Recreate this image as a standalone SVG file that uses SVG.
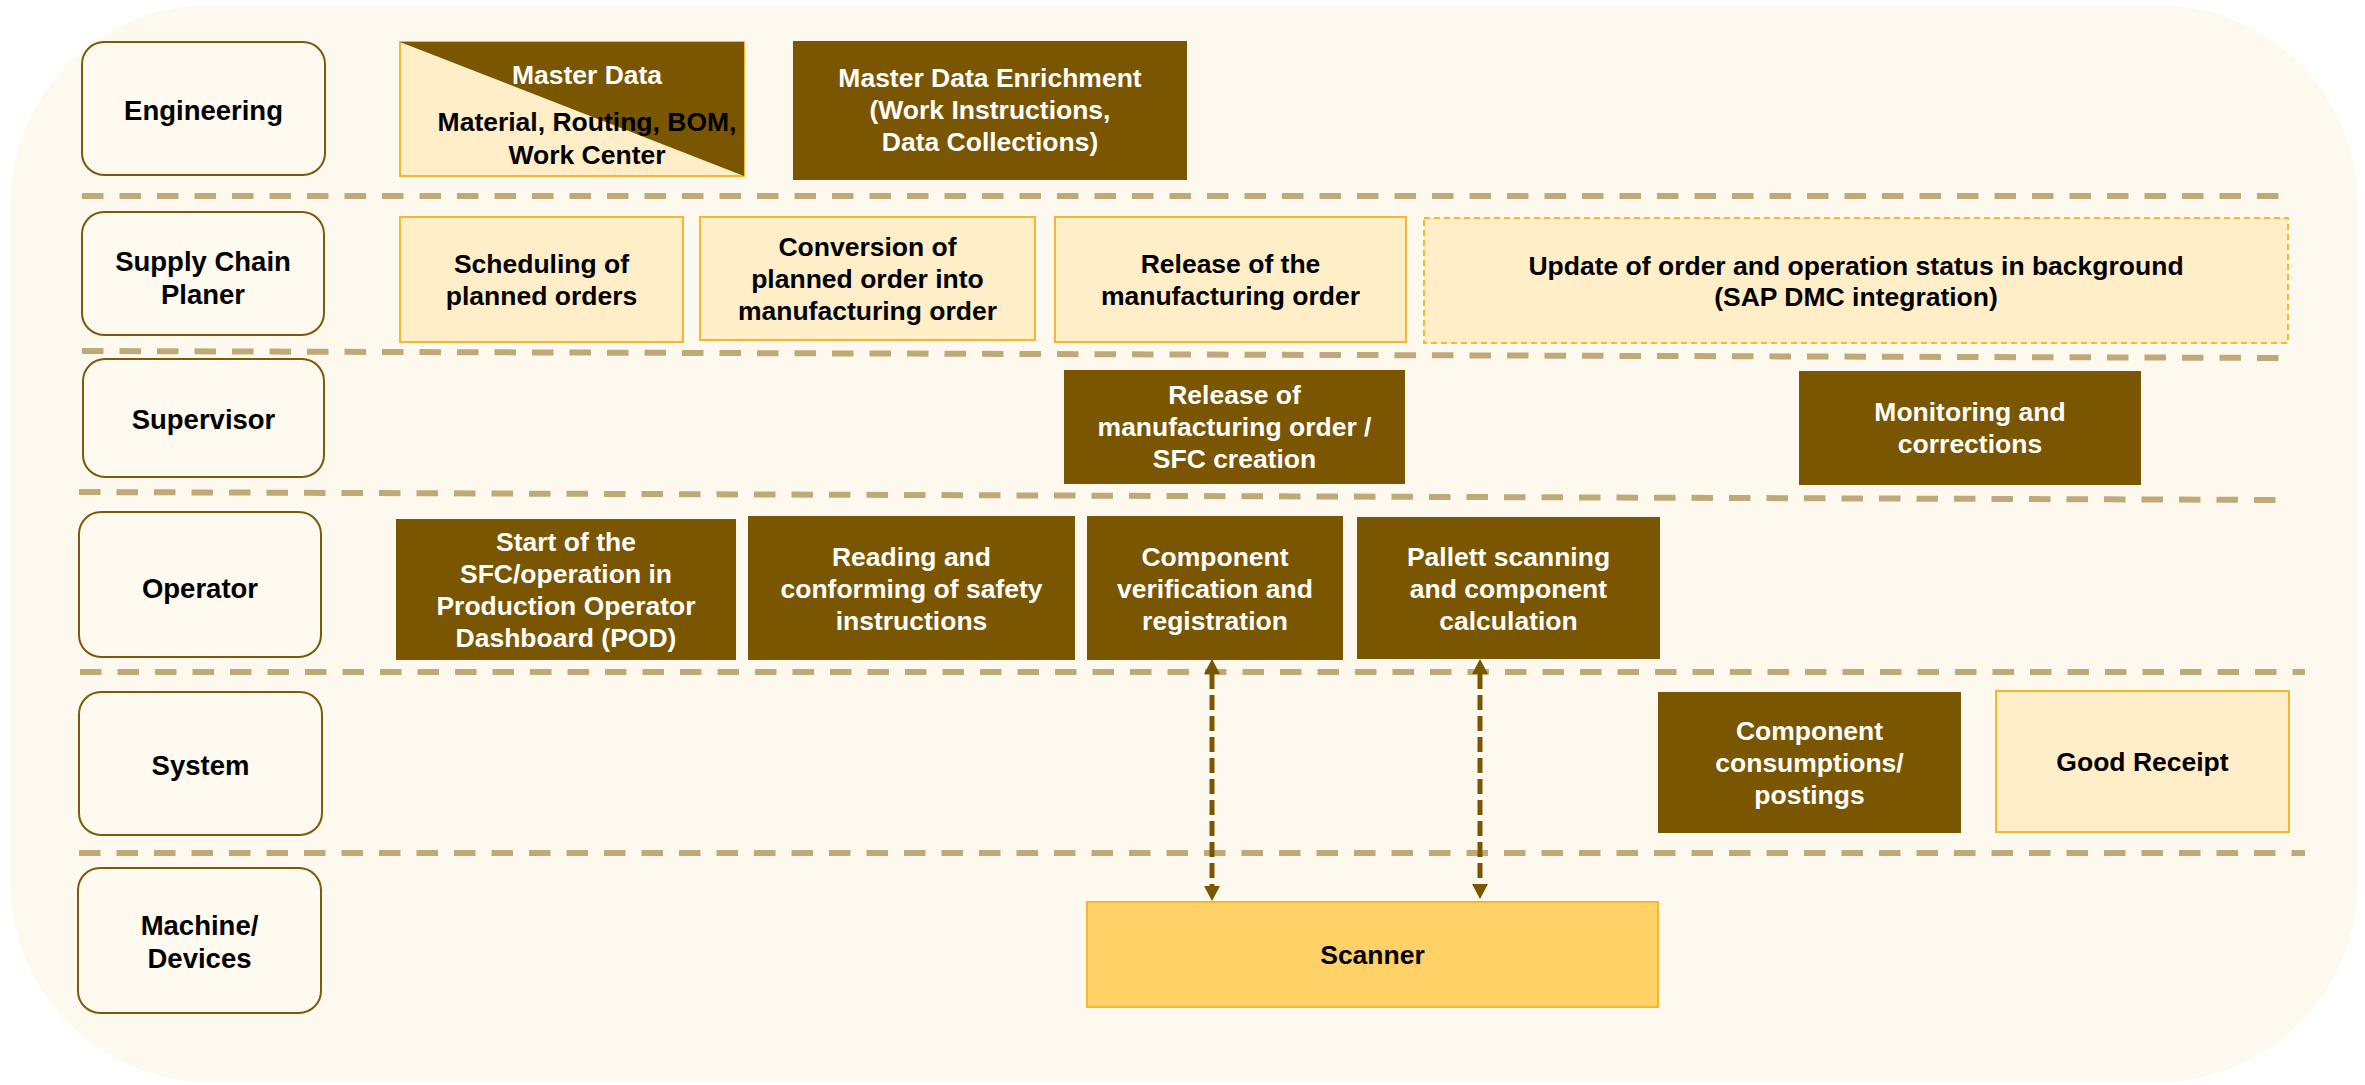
<svg xmlns="http://www.w3.org/2000/svg" width="2365" height="1085" viewBox="0 0 2365 1085">
<defs>
<style>
.bg{fill:#FEF9EE}
.lane rect{fill:#FFFAEF;stroke:#7D5A0A;stroke-width:2}
.lane text{font-family:"Liberation Sans",Arial,sans-serif;font-weight:bold;font-size:27.5px;fill:#000;text-anchor:middle}
.dark rect{fill:#7A5600}
.light rect{fill:#FFEEC8;stroke:#F4B731;stroke-width:2}
.dashed rect{fill:#FFEEC8;stroke:#F4B731;stroke-width:2;stroke-dasharray:6 4}
.scan rect{fill:#FFD166;stroke:#F4B731;stroke-width:2}
.n text{font-family:"Liberation Sans",Arial,sans-serif;font-weight:bold;font-size:26.5px;text-anchor:middle}
.dark text{fill:#FFFFFF}
.light text,.dashed text,.scan text{fill:#000000}
.sep{stroke:#BFA977;stroke-width:6;stroke-dasharray:21.5 16;fill:none}
.conn{stroke:#7A5600;stroke-width:5;stroke-dasharray:15 6;fill:none}
</style>
<marker id="ah" viewBox="0 0 15 16" refX="0" refY="8" markerWidth="15" markerHeight="16" markerUnits="userSpaceOnUse" orient="auto-start-reverse">
<path d="M0,0 L15,8 L0,16 z" fill="#7A5600"/>
</marker>
</defs>
<rect class="bg" x="10" y="5" width="2348" height="1077" rx="200" ry="200"/>

<g id="separators">
<line class="sep" x1="82" y1="196" x2="2290" y2="196"/>
<line class="sep" x1="82" y1="351" x2="2288" y2="358"/>
<line class="sep" x1="79" y1="492" x2="2288" y2="500"/>
<line class="sep" x1="80" y1="672" x2="2305" y2="672"/>
<line class="sep" x1="79" y1="853" x2="2305" y2="853"/>
</g>

<g id="lane-engineering" class="lane"><rect x="82" y="42" width="243" height="133" rx="22"/><text x="203.5" y="120">Engineering</text></g>
<g id="lane-supply" class="lane"><rect x="82" y="212" width="242" height="123" rx="22"/><text x="203" y="271">Supply Chain</text><text x="203" y="304">Planer</text></g>
<g id="lane-supervisor" class="lane"><rect x="83" y="359" width="241" height="118" rx="22"/><text x="203.5" y="429">Supervisor</text></g>
<g id="lane-operator" class="lane"><rect x="79" y="512" width="242" height="145" rx="22"/><text x="200" y="598">Operator</text></g>
<g id="lane-system" class="lane"><rect x="79" y="692" width="243" height="143" rx="22"/><text x="200.5" y="775">System</text></g>
<g id="lane-machine" class="lane"><rect x="78" y="868" width="243" height="145" rx="22"/><text x="199.5" y="935">Machine/</text><text x="199.5" y="968">Devices</text></g>

<g id="master-data" class="n light">
<rect x="400" y="42" width="344" height="134" stroke-width="1.5"/>
<polygon points="400,42 744,42 744,176" fill="#7A5600"/>
<text x="587" y="84" fill="#FFFFFF" style="fill:#FFFFFF">Master Data</text>
<text x="587" y="131">Material, Routing, BOM,</text>
<text x="587" y="164">Work Center</text>
</g>
<g id="master-data-enrichment" class="n dark"><rect x="793" y="41" width="394" height="139"/><text x="990" y="87">Master Data Enrichment</text><text x="990" y="119">(Work Instructions,</text><text x="990" y="151">Data Collections)</text></g>

<g id="scheduling" class="n light"><rect x="400" y="217" width="283" height="125"/><text x="541.5" y="273">Scheduling of</text><text x="541.5" y="305">planned orders</text></g>
<g id="conversion" class="n light"><rect x="700" y="217" width="335" height="123"/><text x="867.5" y="256">Conversion of</text><text x="867.5" y="288">planned order into</text><text x="867.5" y="320">manufacturing order</text></g>
<g id="release-mo" class="n light"><rect x="1055" y="217" width="351" height="125"/><text x="1230.5" y="273">Release of the</text><text x="1230.5" y="305">manufacturing order</text></g>
<g id="update-status" class="n dashed"><rect x="1424" y="218" width="864" height="125"/><text x="1856" y="275">Update of order and operation status in background</text><text x="1856" y="306">(SAP DMC integration)</text></g>

<g id="release-sfc" class="n dark"><rect x="1064" y="370" width="341" height="114"/><text x="1234.5" y="404">Release of</text><text x="1234.5" y="436">manufacturing order /</text><text x="1234.5" y="468">SFC creation</text></g>
<g id="monitoring" class="n dark"><rect x="1799" y="371" width="342" height="114"/><text x="1970" y="421">Monitoring and</text><text x="1970" y="453">corrections</text></g>

<g id="start-sfc" class="n dark"><rect x="396" y="519" width="340" height="141"/><text x="566" y="551">Start of the</text><text x="566" y="583">SFC/operation in</text><text x="566" y="615">Production Operator</text><text x="566" y="647">Dashboard (POD)</text></g>
<g id="reading" class="n dark"><rect x="748" y="516" width="327" height="144"/><text x="911.5" y="566">Reading and</text><text x="911.5" y="598">conforming of safety</text><text x="911.5" y="630">instructions</text></g>
<g id="component-verification" class="n dark"><rect x="1087" y="516" width="256" height="144"/><text x="1215" y="566">Component</text><text x="1215" y="598">verification and</text><text x="1215" y="630">registration</text></g>
<g id="pallett" class="n dark"><rect x="1357" y="517" width="303" height="142"/><text x="1508.5" y="566">Pallett scanning</text><text x="1508.5" y="598">and component</text><text x="1508.5" y="630">calculation</text></g>

<g id="component-consumptions" class="n dark"><rect x="1658" y="692" width="303" height="141"/><text x="1809.5" y="740">Component</text><text x="1809.5" y="772">consumptions/</text><text x="1809.5" y="804">postings</text></g>
<g id="good-receipt" class="n light"><rect x="1996" y="691" width="293" height="141"/><text x="2142.5" y="771">Good Receipt</text></g>

<g id="scanner" class="n scan"><rect x="1087" y="902" width="571" height="105"/><text x="1372.5" y="964">Scanner</text></g>

<g id="connectors">
<line class="conn" x1="1212" y1="674" x2="1212" y2="886" marker-start="url(#ah)" marker-end="url(#ah)"/>
<line class="conn" x1="1480" y1="674" x2="1480" y2="884" marker-start="url(#ah)" marker-end="url(#ah)"/>
</g>
</svg>
